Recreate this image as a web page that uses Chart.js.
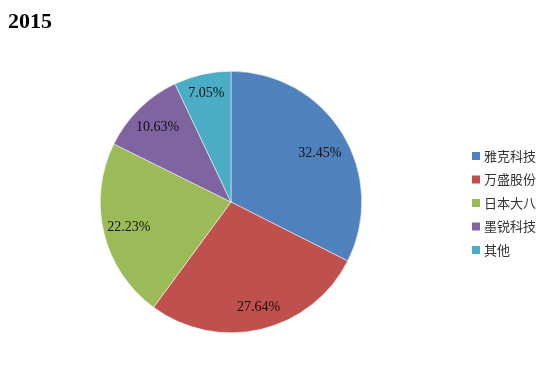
<!DOCTYPE html>
<html>
<head>
<meta charset="utf-8">
<script src="https://cdn.jsdelivr.net/npm/chart.js@4/dist/chart.umd.min.js"></script>
<style>
  html, body { margin: 0; padding: 0; background: #fff; }
  #wrap { position: relative; width: 547px; height: 368px; }
  #title { position: absolute; left: 8px; top: 10px; line-height: 22px; font: bold 22px/22px "Liberation Serif", "Times New Roman", serif; color: #000; }
</style>
</head>
<body>
<div id="wrap">
  <canvas id="c" width="547" height="368"></canvas>
  <div id="title">2015</div>
</div>
<script>
// Market share by company, 2015
const companies = ['雅克科技', '万盛股份', '日本大八', '墨锐科技', '其他'];
const shares = [32.45, 27.64, 22.23, 10.63, 7.05];
const colors = ['#4F81BD', '#C0504D', '#9BBB59', '#8064A2', '#4BACC6'];

// Percentage labels drawn at the slice's mid-angle
const sliceLabels = {
  id: 'sliceLabels',
  afterDatasetsDraw(chart, args, opts) {
    const ctx = chart.ctx;
    const meta = chart.getDatasetMeta(0);
    ctx.save();
    ctx.font = '14px "Liberation Serif", "Times New Roman", serif';
    ctx.fillStyle = '#111';
    ctx.textAlign = 'center';
    ctx.textBaseline = 'middle';
    meta.data.forEach((arc, i) => {
      const p = arc.getProps(['x', 'y', 'startAngle', 'endAngle', 'outerRadius'], true);
      const mid = (p.startAngle + p.endAngle) / 2 + opts.shift[i];
      const r = p.outerRadius * opts.radial[i];
      ctx.fillText(shares[i].toFixed(2) + '%', p.x + Math.cos(mid) * r, p.y + Math.sin(mid) * r);
    });
    ctx.restore();
  }
};

// Legend list on the right side
const sideLegend = {
  id: 'sideLegend',
  afterDraw(chart, args, opts) {
    const ctx = chart.ctx;
    ctx.save();
    ctx.font = '13px "Noto Sans CJK SC", sans-serif';
    ctx.textBaseline = 'middle';
    companies.forEach((name, i) => {
      const y = opts.top + i * opts.step;
      ctx.fillStyle = colors[i];
      ctx.fillRect(opts.left, y - 4, 8, 8);
      ctx.fillStyle = '#333';
      ctx.fillText(name, opts.left + 12, y);
    });
    ctx.restore();
  }
};

new Chart(document.getElementById('c'), {
  type: 'pie',
  data: {
    labels: companies,
    datasets: [{
      data: shares,
      backgroundColor: colors,
      borderColor: '#ffffff',
      borderWidth: 0.5
    }]
  },
  options: {
    responsive: false,
    animation: false,
    layout: { padding: { top: 71, bottom: 35, left: 100, right: 185 } },
    plugins: {
      legend: { display: false },
      tooltip: { enabled: false },
      sliceLabels: {
        radial: [0.775, 0.835, 0.805, 0.80, 0.855],
        shift: [0.05, -0.02, 0.0, 0.0, 0.0]
      },
      sideLegend: { left: 472, top: 156, step: 23.5 }
    }
  },
  plugins: [sliceLabels, sideLegend]
});
</script>
</body>
</html>
